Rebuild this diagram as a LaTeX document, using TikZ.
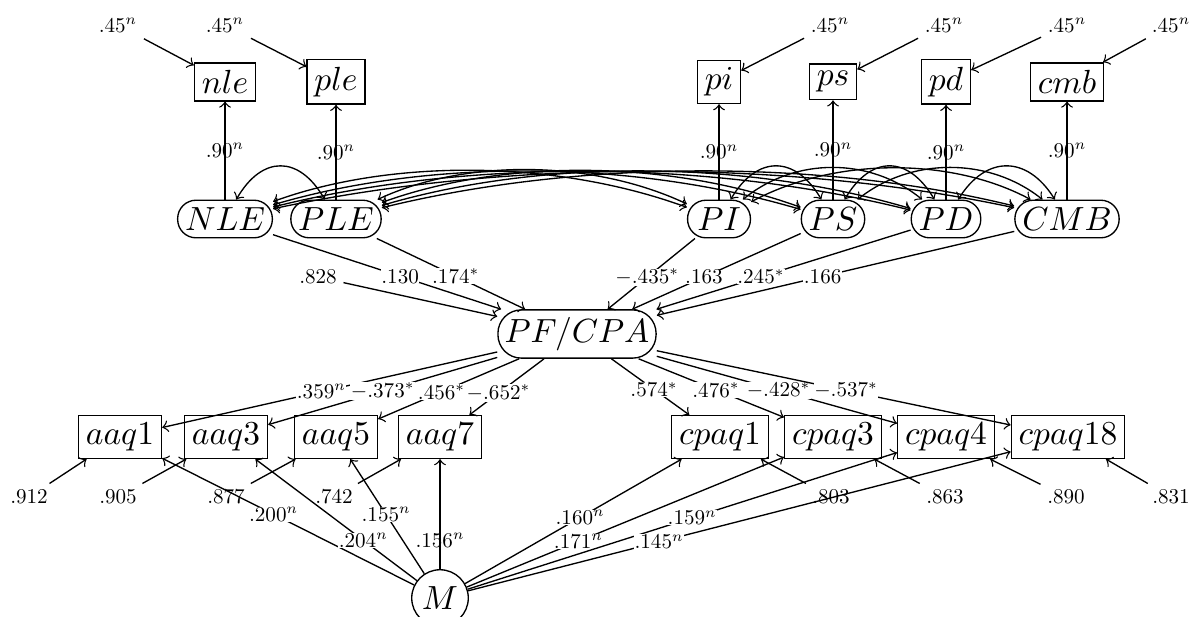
\documentclass[tikz,border=0pt]{standalone}

\begin{document}
\begin{tikzpicture}[x=0.0105cm, y=-0.0105cm, node distance=1.44cm, >=to,
    obs/.style={draw, inner sep=2.2pt},
    lat/.style={draw, rounded corners=5.5pt, inner sep=2.2pt, minimum width=0.66cm},
    err/.style={scale=0.63, inner sep=3pt},
    coef/.style={scale=0.63, fill=white, inner sep=0.2pt}]
    \useasboundingbox (0,0) rectangle (1194,616);

    % latent variables
    \node[lat] (NLE) at (225,219) {$NLE$};
    \node[lat] (PLE) at (336,219) {$PLE$};
    \node[lat] (PI) at (719,219) {$PI$};
    \node[lat] (PS) at (833,219) {$PS$};
    \node[lat] (PD) at (946,219) {$PD$};
    \node[lat] (CMB) at (1067,219) {$CMB$};
    \node[lat, rounded corners=7pt, inner xsep=2pt] (PF) at (577,334) {$PF/CPA$};
    \node[draw, circle, inner sep=1.5pt] (M) at (440,598) {$M$};

    % indicators
    \node[obs, above of=NLE] (nle) {$nle$};
    \node[obs, above of=PLE] (ple) {$ple$};
    \node[obs, above of=PI] (pi) {$pi$};
    \node[obs, above of=PS] (ps) {$ps$};
    \node[obs, above of=PD] (pd) {$pd$};
    \node[obs, above of=CMB] (cmb) {$cmb$};
    \node[obs] (aaq1) at (120,437) {$aaq1$};
    \node[obs] (aaq3) at (226,437) {$aaq3$};
    \node[obs] (aaq5) at (336,437) {$aaq5$};
    \node[obs] (aaq7) at (440,437) {$aaq7$};
    \node[obs] (cpaq1) at (720,437) {$cpaq1$};
    \node[obs] (cpaq3) at (833,437) {$cpaq3$};
    \node[obs] (cpaq4) at (946,437) {$cpaq4$};
    \node[obs] (cpaq18) at (1068,437) {$cpaq18$};

    % error terms
    \node[err] (enle) at (118,25) {$.45^n$};
    \node[err] (eple) at (225,25) {$.45^n$};
    \node[err] (epi) at (830,25) {$.45^n$};
    \node[err] (eps) at (944,25) {$.45^n$};
    \node[err] (epd) at (1067,25) {$.45^n$};
    \node[err] (ecmb) at (1171,25) {$.45^n$};
    \node[err] (dPF) at (318,277) {$.828$};
    \node[err] (e1) at (29,497) {$.912$};
    \node[err] (e3) at (118,497) {$.905$};
    \node[err] (e5) at (226,497) {$.877$};
    \node[err] (e7) at (334,497) {$.742$};
    \node[err] (c1) at (831,497) {$.803$};
    \node[err] (c3) at (945,497) {$.863$};
    \node[err] (c4) at (1066,497) {$.890$};
    \node[err] (c18) at (1171,497) {$.831$};

    \draw[->] (enle) -- (nle);
    \draw[->] (eple) -- (ple);
    \draw[->] (epi) -- (pi);
    \draw[->] (eps) -- (ps);
    \draw[->] (epd) -- (pd);
    \draw[->] (ecmb) -- (cmb);
    \draw[->] (dPF) -- (PF);
    \draw[->] (e1) -- (aaq1);
    \draw[->] (e3) -- (aaq3);
    \draw[->] (e5) -- (aaq5);
    \draw[->] (e7) -- (aaq7);
    \draw[->] (c1) -- (cpaq1);
    \draw[->] (c3) -- (cpaq3);
    \draw[->] (c4) -- (cpaq4);
    \draw[->] (c18) -- (cpaq18);

    % loadings
    \draw[->] (NLE) -- node[err] {$.90^n$} (nle);
    \draw[->] (PLE) -- node[err] {$.90^n$} (ple);
    \draw[->] (PI) -- node[err] {$.90^n$} (pi);
    \draw[->] (PS) -- node[err] {$.90^n$} (ps);
    \draw[->] (PD) -- node[err] {$.90^n$} (pd);
    \draw[->] (CMB) -- node[err] {$.90^n$} (cmb);

    % correlations
    \draw[<->] (NLE) .. controls +(37,-64) and +(-37,-64) .. (PLE);
    \draw[<->] (NLE) .. controls +(165,-60) and +(-165,-60) .. (PI);
    \draw[<->] (NLE) .. controls +(203,-60) and +(-203,-60) .. (PS);
    \draw[<->] (NLE) .. controls +(240,-60) and +(-240,-60) .. (PD);
    \draw[<->] (NLE) .. controls +(281,-60) and +(-281,-60) .. (CMB);
    \draw[<->] (PLE) .. controls +(128,-60) and +(-128,-60) .. (PI);
    \draw[<->] (PLE) .. controls +(166,-60) and +(-166,-60) .. (PS);
    \draw[<->] (PLE) .. controls +(203,-60) and +(-203,-60) .. (PD);
    \draw[<->] (PLE) .. controls +(244,-60) and +(-244,-60) .. (CMB);
    \draw[<->] (PI) .. controls +(38,-64) and +(-38,-64) .. (PS);
    \draw[<->] (PI) .. controls +(76,-62) and +(-76,-62) .. (PD);
    \draw[<->] (PI) .. controls +(116,-62) and +(-116,-62) .. (CMB);
    \draw[<->] (PS) .. controls +(38,-64) and +(-38,-64) .. (PD);
    \draw[<->] (PS) .. controls +(78,-62) and +(-78,-62) .. (CMB);
    \draw[<->] (PD) .. controls +(40,-64) and +(-40,-64) .. (CMB);

    % paths to PF/CPA
    \draw[->] (NLE) -- node[coef, pos=.557] {$.130$} (PF);
    \draw[->] (PLE) -- node[coef, pos=.532] {$.174^*$} (PF);
    \draw[->] (PI) -- node[coef, pos=.546] {$-.435^*$} (PF);
    \draw[->] (PS) -- node[coef, pos=.574] {$.163$} (PF);
    \draw[->] (PD) -- node[coef, pos=.589] {$.245^*$} (PF);
    \draw[->] (CMB) -- node[coef, pos=.536] {$.166$} (PF);

    % paths from PF/CPA
    \draw[->] (PF) -- node[coef, pos=.525] {$.359^n$} (aaq1);
    \draw[->] (PF) -- node[coef, pos=.5] {$-.373^*$} (aaq3);
    \draw[->] (PF) -- node[coef, pos=.55] {$.456^*$} (aaq5);
    \draw[->] (PF) -- node[coef, pos=.61] {$-.652^*$} (aaq7);
    \draw[->] (PF) -- node[coef, pos=.547] {$.574^*$} (cpaq1);
    \draw[->] (PF) -- node[coef, pos=.532] {$.476^*$} (cpaq3);
    \draw[->] (PF) -- node[coef, pos=.507] {$-.428^*$} (cpaq4);
    \draw[->] (PF) -- node[coef, pos=.535] {$-.537^*$} (cpaq18);

    % method factor
    \draw[->] (M) -- node[coef, pos=.558] {$.200^n$} (aaq1);
    \draw[->] (M) -- node[coef, pos=.332] {$.204^n$} (aaq3);
    \draw[->] (M) -- node[coef, pos=.516] {$.155^n$} (aaq5);
    \draw[->] (M) -- node[err, pos=.263] {$.156^n$} (aaq7);
    \draw[->] (M) -- node[coef, pos=.531] {$.160^n$} (cpaq1);
    \draw[->] (M) -- node[coef, pos=.352] {$.171^n$} (cpaq3);
    \draw[->] (M) -- node[coef, pos=.523] {$.159^n$} (cpaq4);
    \draw[->] (M) -- node[coef, pos=.352] {$.145^n$} (cpaq18);
\end{tikzpicture}
\end{document}
